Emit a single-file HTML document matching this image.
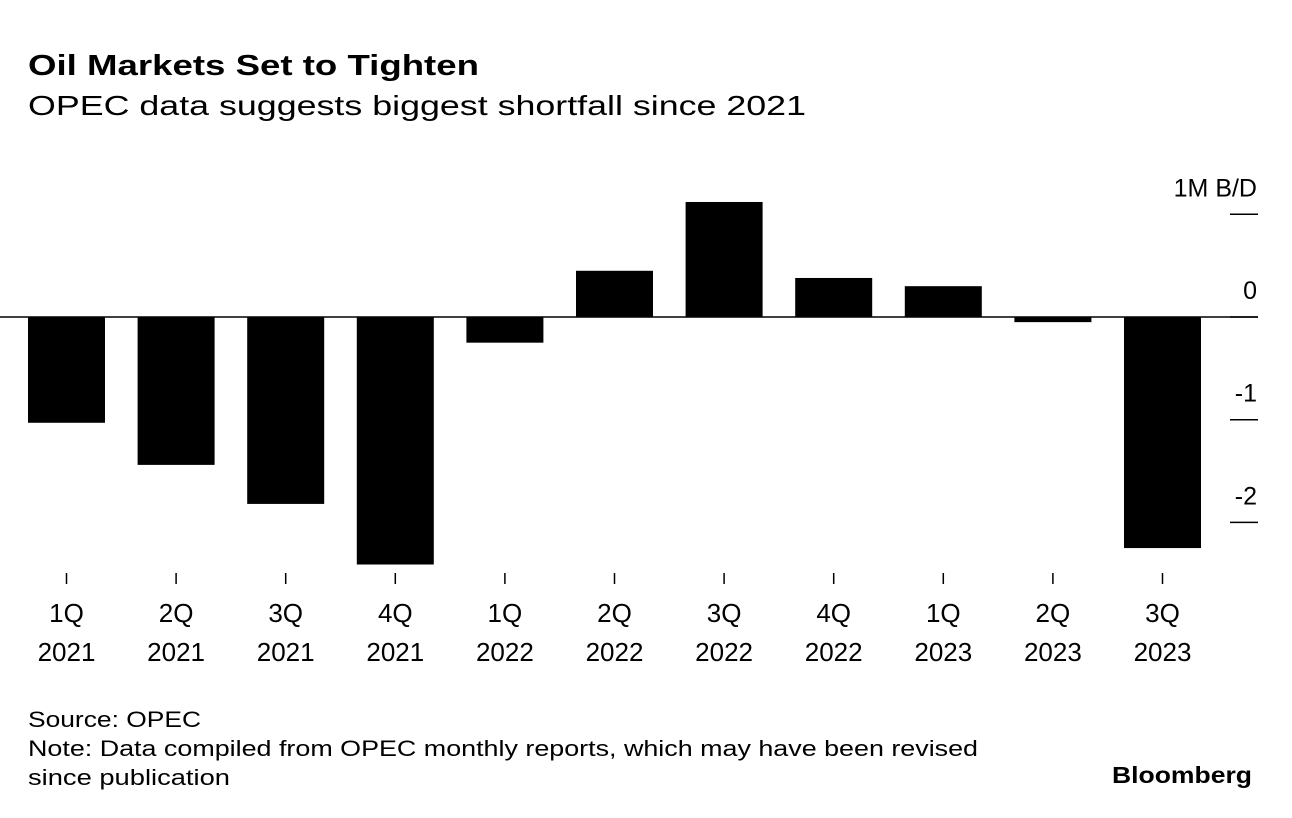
<!DOCTYPE html>
<html><head><meta charset="utf-8"><style>
html,body{margin:0;padding:0;background:#fff;}
svg{display:block;font-family:"Liberation Sans",Arial,sans-serif;}
</style></head><body>
<svg id="chart" width="1292" height="818" viewBox="0 0 1292 818" xmlns="http://www.w3.org/2000/svg">
<text x="28" y="75" font-size="29" font-weight="bold" textLength="451" lengthAdjust="spacingAndGlyphs">Oil Markets Set to Tighten</text>
<text x="28" y="115" font-size="28" textLength="778" lengthAdjust="spacingAndGlyphs">OPEC data suggests biggest shortfall since 2021</text>
<g id="bars"></g>
<line x1="0" x2="1258" y1="317" y2="317" stroke="#000" stroke-width="1.5"/>
<g id="yaxis"></g>
<g id="xaxis"></g>
<text x="28" y="727" font-size="22" textLength="173" lengthAdjust="spacingAndGlyphs">Source: OPEC</text>
<text x="28" y="756" font-size="22" textLength="950" lengthAdjust="spacingAndGlyphs">Note: Data compiled from OPEC monthly reports, which may have been revised</text>
<text x="28" y="785" font-size="22" textLength="202" lengthAdjust="spacingAndGlyphs">since publication</text>
<text x="1252" y="783" font-size="23" font-weight="bold" text-anchor="end" textLength="140" lengthAdjust="spacingAndGlyphs">Bloomberg</text>
</svg>
<script>
const quarters = ["1Q","2Q","3Q","4Q","1Q","2Q","3Q","4Q","1Q","2Q","3Q"];
const years = ["2021","2021","2021","2021","2022","2022","2022","2022","2023","2023","2023"];
const values = [-1.03,-1.44,-1.82,-2.41,-0.25,0.45,1.12,0.38,0.30,-0.05,-2.25];
const yTicks = [1,0,-1,-2];
const yTickLabels = ["1M B/D","0","-1","-2"];

const NS="http://www.w3.org/2000/svg";
function y(v){return 317-v*102.7;}
function xc(i){return 66.5+i*109.6;}
const bw=77;
const bars=document.getElementById('bars');
const xaxis=document.getElementById('xaxis');
const yaxis=document.getElementById('yaxis');
values.forEach((v,i)=>{
  const r=document.createElementNS(NS,'rect');
  r.setAttribute('x',xc(i)-bw/2);
  r.setAttribute('width',bw);
  r.setAttribute('y',Math.min(y(v),y(0)));
  r.setAttribute('height',Math.abs(y(v)-y(0)));
  r.setAttribute('fill','#000');
  
  
  bars.appendChild(r);
  const t=document.createElementNS(NS,'line');
  t.setAttribute('x1',xc(i));t.setAttribute('x2',xc(i));
  t.setAttribute('y1',573);t.setAttribute('y2',584);
  t.setAttribute('stroke','#000');t.setAttribute('stroke-width','1.5');
  
  
  xaxis.appendChild(t);
  [[quarters[i],622],[years[i],661]].forEach(([s,yy])=>{
    const tx=document.createElementNS(NS,'text');
    tx.setAttribute('x',xc(i));tx.setAttribute('y',yy);
    tx.setAttribute('font-size','26');tx.setAttribute('text-anchor','middle');
    tx.textContent=s;
    
    
    xaxis.appendChild(tx);
  });
});
yTicks.forEach((v,i)=>{
  const l=document.createElementNS(NS,'line');
  l.setAttribute('x1',1230);l.setAttribute('x2',1258);
  l.setAttribute('y1',y(v));l.setAttribute('y2',y(v));
  l.setAttribute('stroke','#000');l.setAttribute('stroke-width','1.5');
  
  
  yaxis.appendChild(l);
  const tx=document.createElementNS(NS,'text');
  tx.setAttribute('x',1257);tx.setAttribute('y',y(v)-18);
  tx.setAttribute('font-size','25');tx.setAttribute('text-anchor','end');
  tx.textContent=yTickLabels[i];
  
  
  yaxis.appendChild(tx);
});
</script>
</body></html>
